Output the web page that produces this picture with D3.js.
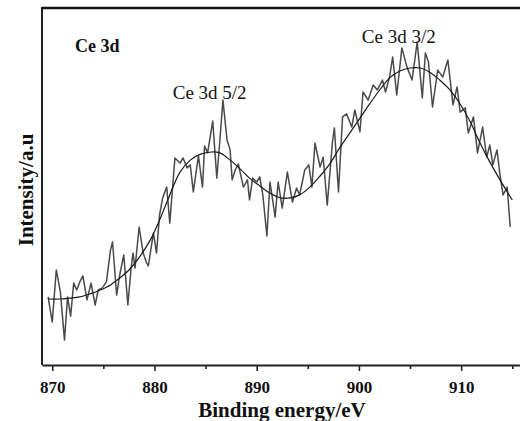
<!DOCTYPE html>
<html>
<head>
<meta charset="utf-8">
<script src="https://cdn.jsdelivr.net/npm/d3@7"></script>
<style>
  html, body { margin: 0; padding: 0; background: #fff; }
  svg { display: block; }
  text { font-family: "Liberation Serif", "Times New Roman", serif; fill: #111; }
</style>
</head>
<body>
<script>
// Ce 3d XPS spectrum: measured counts (binding energy in eV, intensity in a.u.)
const energy = [
  869.6, 870.0, 870.4, 870.8, 871.2, 871.5, 871.8, 872.1, 872.4, 872.7,
  873.0, 873.4, 873.8, 874.2, 874.5, 874.9, 875.3, 875.7, 875.9, 876.1,
  876.3, 876.6, 877.0, 877.4, 877.7, 877.9, 878.1, 878.5, 878.9, 879.2,
  879.4, 879.9, 880.2, 880.5, 880.8, 881.2, 881.5, 882.0, 882.3, 882.5,
  882.8, 883.2, 883.5, 883.8, 884.3, 884.7, 884.9, 885.2, 885.7, 886.1,
  886.4, 886.7, 887.1, 887.4, 887.6, 887.9, 888.2, 888.7, 889.1, 889.3,
  889.6, 890.0, 890.3, 890.6, 891.0, 891.3, 891.8, 892.1, 892.5, 893.0,
  893.5, 893.9, 894.2, 894.7, 895.1, 895.4, 895.7, 896.2, 896.5, 896.9,
  897.4, 897.6, 898.0, 898.4, 898.8, 899.3, 899.6, 900.1, 900.4, 900.9,
  901.4, 901.8, 902.3, 902.6, 903.0, 903.3, 903.7, 904.2, 904.7, 905.2,
  905.7, 906.2, 906.5, 906.8, 907.2, 907.7, 908.2, 908.7, 909.2, 909.6,
  909.9, 910.4, 910.7, 911.2, 911.6, 912.1, 912.5, 912.8, 913.1, 913.5,
  913.8, 914.1, 914.5, 914.8
];
const intensity = [
  22.7, 14.3, 31.7, 24.3, 8.3, 22.7, 16.3, 27.3, 25.0, 27.7,
  29.7, 21.7, 27.3, 20.0, 25.0, 25.7, 27.7, 38.3, 41.0, 32.3,
  23.3, 30.0, 36.7, 20.0, 31.7, 37.3, 32.3, 46.0, 37.3, 34.3,
  33.0, 44.0, 37.3, 50.0, 55.7, 59.3, 47.3, 69.0, 68.0, 67.3,
  69.0, 65.7, 66.7, 57.7, 69.7, 59.3, 73.0, 70.7, 81.3, 62.3,
  75.0, 88.3, 75.0, 71.7, 61.7, 65.0, 67.0, 59.3, 61.7, 55.0,
  62.3, 61.0, 62.7, 56.7, 43.0, 61.0, 49.3, 61.0, 52.3, 64.3,
  54.3, 59.0, 56.7, 65.0, 66.7, 59.3, 74.0, 66.0, 69.3, 53.3,
  74.0, 79.0, 57.7, 82.7, 83.7, 79.3, 85.0, 77.7, 91.0, 88.3,
  93.3, 91.7, 95.0, 91.0, 96.0, 102.7, 90.0, 105.7, 99.3, 95.0,
  107.7, 89.0, 104.0, 101.0, 86.0, 98.3, 96.0, 101.7, 86.7, 92.7,
  84.3, 85.7, 77.3, 82.7, 70.7, 79.3, 69.3, 73.3, 66.7, 71.7,
  63.3, 56.7, 59.3, 46.0
];

// Fitted envelope (two-peak fit) sampled along the energy axis
const fitEnergy = [
  869.6, 870.8, 871.7, 872.7, 873.7, 874.7, 875.7, 876.6, 877.6, 878.6,
  879.6, 880.5, 881.5, 882.5, 883.5, 884.5, 885.6, 886.4, 887.4, 888.4,
  889.3, 890.3, 891.3, 892.3, 893.3, 894.2, 895.2, 896.2, 897.2, 898.1,
  899.1, 900.1, 901.1, 902.1, 903.0, 904.0, 905.0, 906.0, 906.9, 907.9,
  908.9, 909.9, 910.9, 911.8, 912.8, 913.8, 915.0
];
const fitIntensity = [
  22.0, 22.0, 22.3, 22.7, 23.7, 25.0, 26.7, 29.0, 32.0, 36.3,
  41.7, 48.3, 56.7, 64.3, 68.3, 70.3, 71.0, 70.7, 68.3, 65.3,
  62.3, 59.7, 57.3, 55.7, 55.7, 56.7, 59.3, 63.0, 67.3, 72.3,
  77.3, 82.3, 87.3, 92.0, 95.7, 98.0, 99.0, 99.0, 97.7, 95.0,
  91.7, 87.0, 81.0, 74.3, 67.7, 61.7, 55.0
];

const majorTicks = [870, 880, 890, 900, 910];
const minorTicks = [875, 885, 895, 905, 915];

// peak annotations, placed by the label's centre (energy) and baseline (intensity)
const peakLabels = [
  { text: "Ce 3d 5/2", e: 885.4, i: 88.7 },
  { text: "Ce 3d 3/2", e: 903.9, i: 107.3 }
];

const W = 520, H = 421;
const svg = d3.select("body").append("svg")
  .attr("width", W).attr("height", H)
  .style("overflow", "hidden");

const plotLeft = 42, plotTop = 8, plotBottom = 365;
const x = d3.scaleLinear().domain([869, 916]).range([plotLeft, 522.5]);
const y = d3.scaleLinear().domain([0, 119]).range([plotBottom, plotTop]);

// spectrum
const line = d3.line().x(d => x(d[0])).y(d => y(d[1])).curve(d3.curveLinear);
svg.append("path")
  .datum(d3.zip(energy, intensity))
  .attr("d", line)
  .attr("fill", "none")
  .attr("stroke", "#4a4a4a")
  .attr("stroke-width", 1.5)
  .attr("stroke-linejoin", "round");

// fitted envelope
const fitLine = d3.line().x(d => x(d[0])).y(d => y(d[1])).curve(d3.curveCatmullRom);
svg.append("path")
  .datum(d3.zip(fitEnergy, fitIntensity))
  .attr("d", fitLine)
  .attr("fill", "none")
  .attr("stroke", "#1a1a1a")
  .attr("stroke-width", 1.2);

// frame: left and top borders
svg.append("line")
  .attr("x1", plotLeft).attr("x2", plotLeft).attr("y1", plotTop - 1).attr("y2", plotBottom)
  .attr("stroke", "#222").attr("stroke-width", 2);
svg.append("line")
  .attr("x1", plotLeft).attr("x2", W + 5).attr("y1", plotTop).attr("y2", plotTop)
  .attr("stroke", "#111").attr("stroke-width", 2.6);

// bottom axis with major and minor ticks
const gx = svg.append("g").attr("transform", `translate(0,${plotBottom})`);
gx.call(d3.axisBottom(x).tickValues(majorTicks).tickSize(6).tickSizeOuter(0).tickPadding(10).tickFormat(d3.format("d")));
gx.select(".domain").attr("stroke", "#222").attr("stroke-width", 2);
gx.selectAll(".tick line").attr("stroke", "#222").attr("stroke-width", 1.6);
gx.selectAll(".tick text")
  .style("font-family", "'Liberation Serif', serif")
  .style("font-weight", "bold")
  .style("font-size", "17px")
  .attr("fill", "#111");

const gm = svg.append("g").attr("transform", `translate(0,${plotBottom})`);
gm.call(d3.axisBottom(x).tickValues(minorTicks).tickSize(4).tickSizeOuter(0).tickFormat(""));
gm.select(".domain").remove();
gm.selectAll(".tick line").attr("stroke", "#222").attr("stroke-width", 1.6);

// axis titles
svg.append("text")
  .attr("x", 282).attr("y", 417)
  .attr("text-anchor", "middle")
  .style("font-weight", "bold").style("font-size", "21px")
  .text("Binding energy/eV");

svg.append("text")
  .attr("transform", "translate(33,190) rotate(-90)")
  .attr("text-anchor", "middle")
  .style("font-weight", "bold").style("font-size", "21px")
  .text("Intensity/a.u");

// panel title
svg.append("text")
  .attr("x", 75).attr("y", 52)
  .style("font-weight", "bold").style("font-size", "18px")
  .text("Ce 3d");

svg.selectAll(".peak")
  .data(peakLabels)
  .enter().append("text")
  .attr("class", "peak")
  .attr("x", d => x(d.e))
  .attr("y", d => y(d.i))
  .attr("text-anchor", "middle")
  .style("font-size", "19px")
  .text(d => d.text);
</script>
</body>
</html>
